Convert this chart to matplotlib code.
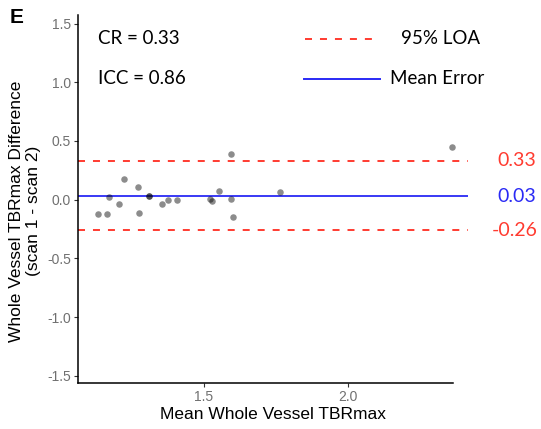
import numpy as np
import matplotlib.pyplot as plt
from matplotlib.lines import Line2D

# Bland-Altman data: mean of the two scans vs difference (scan 1 - scan 2)
mean_tbr = [2.364, 1.594, 1.132, 1.164, 1.169, 1.206, 1.223, 1.271, 1.274,
            1.308, 1.310, 1.355, 1.375, 1.407, 1.521, 1.529, 1.552, 1.595,
            1.601, 1.766]
diff_tbr = [0.445, 0.388, -0.126, -0.121, 0.027, -0.036, 0.177, 0.107, -0.112,
            0.030, 0.028, -0.036, -0.004, -0.002, 0.007, -0.007, 0.070, 0.002,
            -0.147, 0.067]

mean_error = 0.03
loa_upper = 0.33
loa_lower = -0.26
cr_value = 0.33
icc_value = 0.86

y_ticks = [-1.5, -1.0, -0.5, 0.0, 0.5, 1.0, 1.5]
x_ticks = [1.5, 2.0]

red = '#ff3b30'
blue = '#2a2af5'
txt_font = ['Lato', 'DejaVu Sans']
axis_font = ['Liberation Sans', 'DejaVu Sans']
dash = (0, (3.6, 4.1))

fig = plt.figure(figsize=(5.41, 4.29), dpi=100)
ax = fig.add_axes([0.1442, 0.107, 0.8642 - 0.1442, 0.965 - 0.107])

ax.axhline(loa_upper, color=red, lw=1.4, ls=dash)
ax.axhline(loa_lower, color=red, lw=1.4, ls=dash)
ax.axhline(mean_error, color=blue, lw=1.3)
ax.scatter(mean_tbr, diff_tbr, s=22, color='black', alpha=0.45, linewidths=0,
           zorder=3)

ax.set_xlim(1.0625, 2.417)
ax.set_ylim(-1.562, 1.573)
ax.set_xticks(x_ticks)
ax.set_xticklabels(['%.1f' % v for v in x_ticks])
ax.set_yticks(y_ticks)
ax.set_yticklabels(['%.1f' % v for v in y_ticks])
ax.tick_params(length=3, width=0.8, color='#333333', labelcolor='#707070',
               labelsize=10, pad=2)
for lab in ax.get_xticklabels() + ax.get_yticklabels():
    lab.set_family(axis_font)

for s in ['top', 'right']:
    ax.spines[s].set_visible(False)
for s in ['left', 'bottom']:
    ax.spines[s].set_linewidth(1.1)
ax.spines['bottom'].set_bounds(1.0625, 2.368)

ax.set_xlabel('Mean Whole Vessel TBRmax', fontsize=12.5, family=axis_font,
              labelpad=2)
fig.text(25 / 541, 1 - 211 / 429,
         'Whole Vessel TBRmax Difference\n(scan 1 - scan 2)',
         rotation=90, ha='center', va='center', multialignment='center',
         fontsize=12.5, family=axis_font, linespacing=1.1)

# limit labels on the right
ytr = ax.get_yaxis_transform()
ax.text(1.077, loa_upper, '%.2f' % loa_upper, transform=ytr,
        color=red, fontsize=14, family=txt_font, ha='left', va='center')
ax.text(1.077, mean_error, '%.2f' % mean_error, transform=ytr,
        color=blue, fontsize=14, family=txt_font, ha='left', va='center')
ax.text(1.062, loa_lower, '%.2f' % loa_lower, transform=ytr,
        color=red, fontsize=14, family=txt_font, ha='left', va='center')

ax.text(0.051, 0.936, 'CR = %.2f' % cr_value, transform=ax.transAxes,
        fontsize=13.5, family=txt_font, va='center')
ax.text(0.051, 0.827, 'ICC = %.2f' % icc_value, transform=ax.transAxes,
        fontsize=13.5, family=txt_font, va='center')

# legend drawn by hand in axes coordinates
ax.add_line(Line2D([0.584, 0.758], [0.936, 0.936], transform=ax.transAxes,
                   color=red, lw=1.4, ls=dash))
ax.text(0.828, 0.936, '95% LOA', transform=ax.transAxes, fontsize=13.5,
        family=txt_font, va='center')
ax.add_line(Line2D([0.579, 0.774], [0.827, 0.827], transform=ax.transAxes,
                   color=blue, lw=1.4))
ax.text(0.802, 0.827, 'Mean Error', transform=ax.transAxes, fontsize=13.5,
        family=txt_font, va='center')

fig.text(10 / 541, 1 - 17.5 / 429, 'E', fontsize=15, fontweight='bold',
         family=axis_font, va='center', ha='left')

plt.savefig('out.png', dpi=100)
